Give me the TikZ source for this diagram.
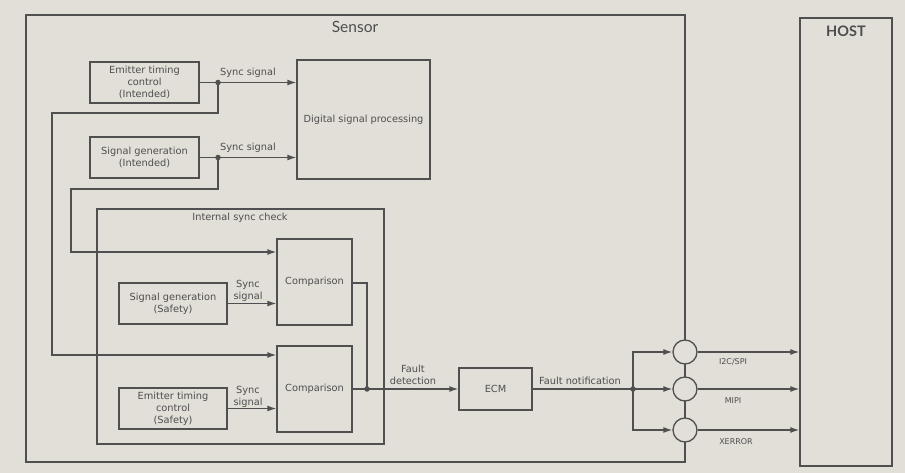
\documentclass[tikz,border=0pt]{standalone}
\usepackage{fontspec}
\setmainfont{DejaVu Sans}
\newfontfamily\latofont{Lato}
\usetikzlibrary{arrows.meta}
\definecolor{bgc}{RGB}{226,223,216}
\definecolor{ln}{RGB}{80,80,80}
\definecolor{tx}{RGB}{78,78,78}
\begin{document}
\begin{tikzpicture}[x=1pt,y=-1pt,
  box/.style={draw=ln, line width=1.3pt, inner sep=0pt, align=center, text=tx,
    font=\fontsize{9.8}{11.8}\selectfont},
  lbl/.style={inner sep=0pt, align=center, text=tx, font=\fontsize{9.8}{11.8}\selectfont},
  small/.style={inner sep=0pt, align=center, text=tx, font=\fontsize{8}{9.5}\selectfont},
  title/.style={inner sep=0pt, text=tx, font=\latofont\fontsize{15.5}{18}\selectfont},
  wire/.style={draw=ln, line width=1.3pt},
  arr/.style={draw=ln, line width=1.3pt, -{Latex[length=9pt,width=6pt]}},
  jdot/.style={circle, fill=ln, inner sep=0pt, minimum size=5.5pt},
  port/.style={circle, draw=ln, fill=bgc, line width=1.3pt, minimum size=24pt, inner sep=0pt}]
\fill[bgc] (0,0) rectangle (905,473);
\useasboundingbox (0,0) rectangle (905,473);

% containers
\node[box, minimum width=659pt, minimum height=447pt] (sensor) at (355.5,238.5) {};
\node[title] (sensorlbl) at (355,27) {Sensor};
\node[box, minimum width=92pt, minimum height=448pt] (host) at (846,242) {};
\node[title, font=\latofont\bfseries\fontsize{14.5}{17}\selectfont] (hostlbl) at (846,31) {HOST};
\node[box, minimum width=287pt, minimum height=235pt] (isc) at (240.5,326.5) {};
\node[lbl] (isclbl) at (240,218) {Internal sync check};

% blocks
\node[box, minimum width=109pt, minimum height=41pt] (eti) at (144.5,82.5) {Emitter timing\\control\\(Intended)};
\node[box, minimum width=109pt, minimum height=41pt] (sgi) at (144.5,157.5) {Signal generation\\(Intended)};
\node[box, minimum width=133pt, minimum height=119pt] (dsp) at (363.5,119.5) {Digital signal processing};
\node[box, minimum width=75pt, minimum height=86pt] (cmp1) at (314.5,282) {Comparison};
\node[box, minimum width=108pt, minimum height=41pt] (sgs) at (173,303.5) {Signal generation\\(Safety)};
\node[box, minimum width=75pt, minimum height=86pt] (cmp2) at (314.5,389) {Comparison};
\node[box, minimum width=108pt, minimum height=41pt] (ets) at (173,408.5) {Emitter timing\\control\\(Safety)};
\node[box, minimum width=73pt, minimum height=42pt] (ecm) at (495.5,389) {ECM};

% ports on the sensor border
\node[port] (p1) at (685,352) {};
\node[port] (p2) at (685,389) {};
\node[port] (p3) at (685,430) {};

% junctions
\coordinate (j1) at (218,82.5);
\coordinate (j2) at (218,157.5);
\coordinate (j3) at (367,389);
\coordinate (j4) at (633,389);

% intended signals to DSP
\draw[arr] (eti.east) -- (eti.east -| dsp.west);
\draw[arr] (sgi.east) -- (sgi.east -| dsp.west);
\node[lbl] (l1) at (248,73) {Sync signal};
\node[lbl] (l2) at (248,148) {Sync signal};

% branches to comparisons
\draw[arr] (j1) -- (218,113) -- (52,113) -- (52,355) -- (cmp2.west |- 0,355);
\draw[arr] (j2) -- (218,189) -- (71,189) -- (71,252) -- (cmp1.west |- 0,252);

% safety signals
\draw[arr] (sgs.east) -- (sgs.east -| cmp1.west);
\draw[arr] (ets.east) -- (ets.east -| cmp2.west);
\node[lbl] (l3) at (248,291) {Sync\\signal};
\node[lbl] (l4) at (248,397) {Sync\\signal};

% comparison outputs
\draw[wire] (cmp1.east |- 0,283) -- (367,283) -- (j3);
\draw[arr] (cmp2.east) -- (ecm.west);
\node[lbl] (l5) at (413,374.5) {Fault\\detection};

% ECM to ports
\draw[wire] (ecm.east) -- (j4);
\node[lbl] (l6) at (580,381) {Fault notification};
\draw[arr] (j4) -- (p2.west);
\draw[arr] (j4) -- (j4 |- p1) -- (p1.west);
\draw[arr] (j4) -- (j4 |- p3) -- (p3.west);

% ports to host
\draw[arr] (p1.east) -- (p1.east -| host.west);
\draw[arr] (p2.east) -- (p2.east -| host.west);
\draw[arr] (p3.east) -- (p3.east -| host.west);
\node[small] (l7) at (733,362) {I2C/SPI};
\node[small] (l8) at (733,401) {MIPI};
\node[small] (l9) at (736,442) {XERROR};

% junction dots
\node[jdot] at (j1) {};
\node[jdot] at (j2) {};
\node[jdot] at (j3) {};
\node[jdot] at (j4) {};
\end{tikzpicture}
\end{document}
